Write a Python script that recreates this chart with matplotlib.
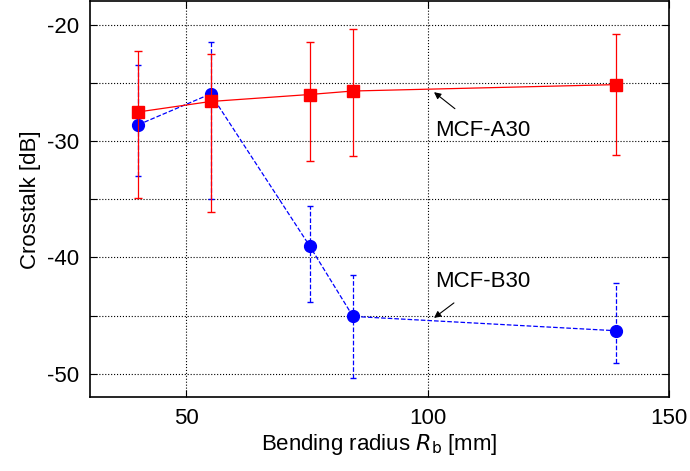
import numpy as np
import matplotlib
matplotlib.use("Agg")
import matplotlib.pyplot as plt
from matplotlib.ticker import FuncFormatter, MultipleLocator

plt.rcParams['font.family'] = ['Liberation Sans', 'DejaVu Sans']

# data
radius = [40, 55, 75.5, 84.5, 139]
a30 = [-27.5, -26.6, -26.0, -25.7, -25.15]
a30_lo = [-34.9, -36.1, -31.7, -31.3, -31.2]
a30_hi = [-22.25, -22.5, -21.5, -20.4, -20.8]
b30 = [-28.6, -25.95, -39.0, -45.07, -46.3]
b30_lo = [-33.0, -35.0, -43.8, -50.4, -49.06]
b30_hi = [-23.5, -21.5, -35.6, -41.5, -42.2]

a30 = np.array(a30)
b30 = np.array(b30)
a_err = [a30 - np.array(a30_lo), np.array(a30_hi) - a30]
b_err = [b30 - np.array(b30_lo), np.array(b30_hi) - b30]

fs = 16

fig = plt.figure(figsize=(6.9, 4.71), dpi=100)
ax = fig.add_axes([0.1304, 0.157, 0.8392, 0.840])

eb = ax.errorbar(radius, b30, yerr=b_err, color='#0000ff', marker='o', markersize=8.5,
                 linestyle='--', linewidth=0.9, elinewidth=0.9, capsize=2.5, zorder=3)
eb[2][0].set_linestyle('--')
ax.errorbar(radius, a30, yerr=a_err, color='#ff0000', marker='s', markersize=8.5,
            linestyle='-', linewidth=0.9, elinewidth=0.9, capsize=3, zorder=4)

ax.set_xlim(30, 150)
ax.set_ylim(-52, -18)
ax.set_xticks([50, 100, 150])
ax.yaxis.set_major_locator(MultipleLocator(5))
ax.yaxis.set_major_formatter(FuncFormatter(lambda v, p: '%d' % v if v % 10 == 0 else ''))
ax.tick_params(direction='in', top=True, right=True, labelsize=fs, length=5, width=0.8, pad=8)
ax.grid(True, color='black', linestyle=':', linewidth=0.8)
for s in ax.spines.values():
    s.set_linewidth(1.2)

ax.set_xlabel('Bending radius $R_\\mathrm{b}$ [mm]', fontsize=fs, labelpad=2)
ax.set_ylabel('Crosstalk [dB]', fontsize=fs, labelpad=4)

ax.annotate('MCF-A30', xy=(101.3, -25.8), xytext=(101.5, -29.1), fontsize=fs, va='center',
            arrowprops=dict(arrowstyle='-|>', color='black', lw=0.8, shrinkA=10, shrinkB=0,
                            mutation_scale=10))
ax.annotate('MCF-B30', xy=(101.3, -45.2), xytext=(101.5, -42.05), fontsize=fs, va='center',
            arrowprops=dict(arrowstyle='-|>', color='black', lw=0.8, shrinkA=10, shrinkB=0,
                            mutation_scale=10))

fig.savefig('out.png', dpi=100)
